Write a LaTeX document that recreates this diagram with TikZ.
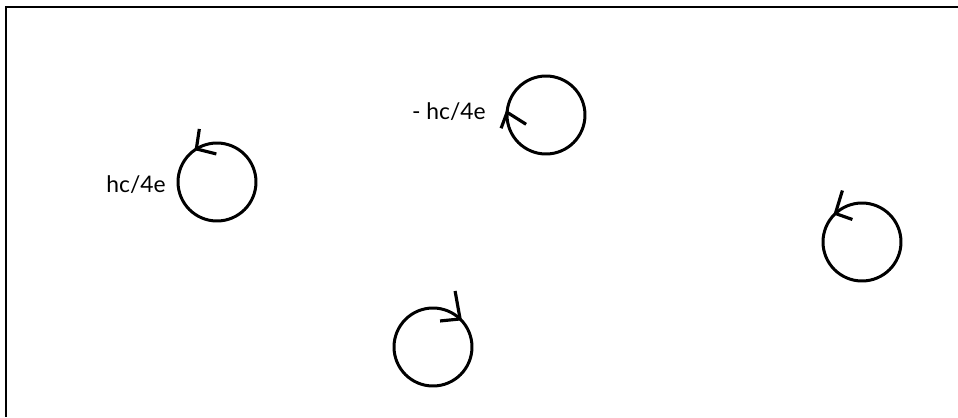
\documentclass[tikz,border=0pt]{standalone}
\usepackage{fontspec}
\setmainfont{Lato}

\begin{document}
\begin{tikzpicture}[x=0.02cm, y=-0.02cm,
  vortex/.style={circle, draw, line width=1.7pt, inner sep=0pt, outer sep=0pt, minimum size=1.56cm},
  barb/.style={line width=1.8pt},
  flux/.style={font=\fontsize{13}{15}\selectfont, inner sep=0pt}]
  \useasboundingbox (0,0) rectangle (958,417);
  % frame (only top and left edges show)
  \draw[line width=1.6pt] (958,7) -- (6,7) -- (6,417);
  % the four vortices
  \node[vortex] (V1) at (217,182) {};
  \node[vortex] (V2) at (546,115) {};
  \node[vortex] (V3) at (433,347) {};
  \node[vortex] (V4) at (862,242) {};
  % sense of circulation
  \draw[barb] (V1.122) ++(3,-20) -- (V1.122) -- ++(20,5);
  \draw[barb] (V2.176) ++(-6,16) -- (V2.176) -- ++(19,12);
  \draw[barb] (V3.46) ++(-5,-28) -- (V3.46) -- ++(-20,2);
  \draw[barb] (V4.133) ++(7,-23) -- (V4.133) -- ++(17,6);
  % flux labels
  \node[flux, anchor=base east] (L1) at (166,192) {hc/4e};
  \node[flux, anchor=base east] (L2) at (486,119) {- hc/4e};
\end{tikzpicture}
\end{document}
